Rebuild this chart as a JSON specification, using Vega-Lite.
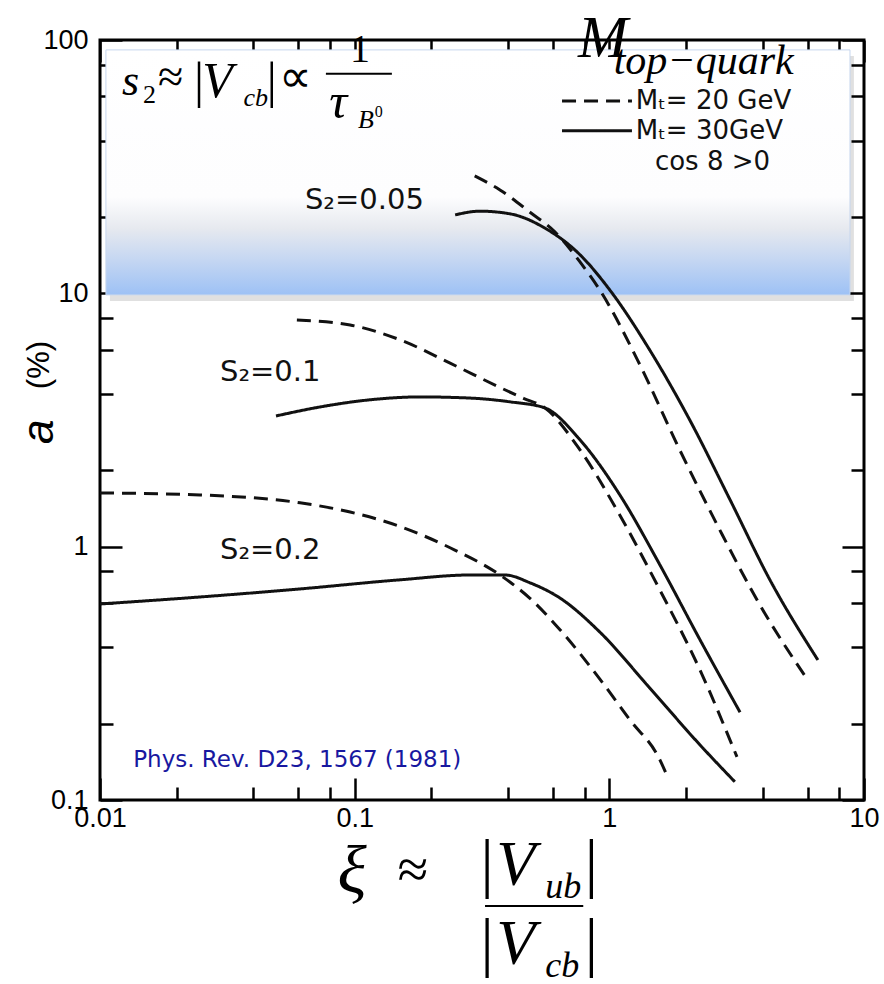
{
  "$schema": "https://vega.github.io/schema/vega-lite/v6.json",
  "width": 764,
  "height": 760,
  "autosize": {"type": "none"},
  "padding": {"left": 100, "top": 40, "right": 20, "bottom": 184},
  "background": "#ffffff",
  "config": {"view": {"stroke": "#000000", "strokeWidth": 3}},
  "datasets": {
    "curves": [
      {"s2": "0.2", "mass": "20 GeV", "x": 0.01, "y": 1.63},
      {"s2": "0.2", "mass": "20 GeV", "x": 0.0247, "y": 1.60},
      {"s2": "0.2", "mass": "20 GeV", "x": 0.061, "y": 1.49},
      {"s2": "0.2", "mass": "20 GeV", "x": 0.096, "y": 1.37},
      {"s2": "0.2", "mass": "20 GeV", "x": 0.151, "y": 1.20},
      {"s2": "0.2", "mass": "20 GeV", "x": 0.237, "y": 0.99},
      {"s2": "0.2", "mass": "20 GeV", "x": 0.372, "y": 0.773},
      {"s2": "0.2", "mass": "20 GeV", "x": 0.488, "y": 0.625},
      {"s2": "0.2", "mass": "20 GeV", "x": 0.64, "y": 0.47},
      {"s2": "0.2", "mass": "20 GeV", "x": 0.918, "y": 0.300},
      {"s2": "0.2", "mass": "20 GeV", "x": 1.205, "y": 0.207},
      {"s2": "0.2", "mass": "20 GeV", "x": 1.58, "y": 0.144},
      {"s2": "0.2", "mass": "20 GeV", "x": 1.70, "y": 0.122},
      {"s2": "0.2", "mass": "30 GeV", "x": 0.01, "y": 0.594},
      {"s2": "0.2", "mass": "30 GeV", "x": 0.0247, "y": 0.633},
      {"s2": "0.2", "mass": "30 GeV", "x": 0.061, "y": 0.681},
      {"s2": "0.2", "mass": "30 GeV", "x": 0.151, "y": 0.74},
      {"s2": "0.2", "mass": "30 GeV", "x": 0.284, "y": 0.773},
      {"s2": "0.2", "mass": "30 GeV", "x": 0.39, "y": 0.773},
      {"s2": "0.2", "mass": "30 GeV", "x": 0.488, "y": 0.72},
      {"s2": "0.2", "mass": "30 GeV", "x": 0.64, "y": 0.627},
      {"s2": "0.2", "mass": "30 GeV", "x": 0.918, "y": 0.460},
      {"s2": "0.2", "mass": "30 GeV", "x": 1.44, "y": 0.277},
      {"s2": "0.2", "mass": "30 GeV", "x": 2.27, "y": 0.165},
      {"s2": "0.2", "mass": "30 GeV", "x": 3.11, "y": 0.118},
      {"s2": "0.1", "mass": "20 GeV", "x": 0.0593, "y": 7.85},
      {"s2": "0.1", "mass": "20 GeV", "x": 0.096, "y": 7.50},
      {"s2": "0.1", "mass": "20 GeV", "x": 0.151, "y": 6.55},
      {"s2": "0.1", "mass": "20 GeV", "x": 0.237, "y": 5.30},
      {"s2": "0.1", "mass": "20 GeV", "x": 0.372, "y": 4.25},
      {"s2": "0.1", "mass": "20 GeV", "x": 0.46, "y": 3.85},
      {"s2": "0.1", "mass": "20 GeV", "x": 0.558, "y": 3.53},
      {"s2": "0.1", "mass": "20 GeV", "x": 0.767, "y": 2.41},
      {"s2": "0.1", "mass": "20 GeV", "x": 1.10, "y": 1.33},
      {"s2": "0.1", "mass": "20 GeV", "x": 1.58, "y": 0.674},
      {"s2": "0.1", "mass": "20 GeV", "x": 2.27, "y": 0.326},
      {"s2": "0.1", "mass": "20 GeV", "x": 3.17, "y": 0.148},
      {"s2": "0.1", "mass": "30 GeV", "x": 0.0491, "y": 3.28},
      {"s2": "0.1", "mass": "30 GeV", "x": 0.0731, "y": 3.56},
      {"s2": "0.1", "mass": "30 GeV", "x": 0.115, "y": 3.80},
      {"s2": "0.1", "mass": "30 GeV", "x": 0.180, "y": 3.90},
      {"s2": "0.1", "mass": "30 GeV", "x": 0.284, "y": 3.86},
      {"s2": "0.1", "mass": "30 GeV", "x": 0.407, "y": 3.73},
      {"s2": "0.1", "mass": "30 GeV", "x": 0.558, "y": 3.53},
      {"s2": "0.1", "mass": "30 GeV", "x": 0.767, "y": 2.64},
      {"s2": "0.1", "mass": "30 GeV", "x": 1.10, "y": 1.60},
      {"s2": "0.1", "mass": "30 GeV", "x": 1.58, "y": 0.847},
      {"s2": "0.1", "mass": "30 GeV", "x": 2.27, "y": 0.429},
      {"s2": "0.1", "mass": "30 GeV", "x": 3.26, "y": 0.222},
      {"s2": "0.05", "mass": "20 GeV", "x": 0.296, "y": 29.1},
      {"s2": "0.05", "mass": "20 GeV", "x": 0.372, "y": 25.6},
      {"s2": "0.05", "mass": "20 GeV", "x": 0.488, "y": 20.9},
      {"s2": "0.05", "mass": "20 GeV", "x": 0.611, "y": 17.5},
      {"s2": "0.05", "mass": "20 GeV", "x": 0.767, "y": 13.3},
      {"s2": "0.05", "mass": "20 GeV", "x": 0.918, "y": 10.3},
      {"s2": "0.05", "mass": "20 GeV", "x": 1.32, "y": 5.21},
      {"s2": "0.05", "mass": "20 GeV", "x": 1.89, "y": 2.41},
      {"s2": "0.05", "mass": "20 GeV", "x": 2.72, "y": 1.16},
      {"s2": "0.05", "mass": "20 GeV", "x": 3.90, "y": 0.589},
      {"s2": "0.05", "mass": "20 GeV", "x": 5.86, "y": 0.309},
      {"s2": "0.05", "mass": "30 GeV", "x": 0.248, "y": 20.4},
      {"s2": "0.05", "mass": "30 GeV", "x": 0.310, "y": 21.1},
      {"s2": "0.05", "mass": "30 GeV", "x": 0.407, "y": 20.6},
      {"s2": "0.05", "mass": "30 GeV", "x": 0.558, "y": 18.1},
      {"s2": "0.05", "mass": "30 GeV", "x": 0.767, "y": 14.2},
      {"s2": "0.05", "mass": "30 GeV", "x": 1.005, "y": 10.3},
      {"s2": "0.05", "mass": "30 GeV", "x": 1.44, "y": 5.98},
      {"s2": "0.05", "mass": "30 GeV", "x": 2.07, "y": 3.16},
      {"s2": "0.05", "mass": "30 GeV", "x": 2.98, "y": 1.53},
      {"s2": "0.05", "mass": "30 GeV", "x": 4.27, "y": 0.74},
      {"s2": "0.05", "mass": "30 GeV", "x": 6.59, "y": 0.357}
    ],
    "shadow": [{"x": 0.01094, "x2": 9.13, "y": 9.33, "y2": 86.5}],
    "panel": [{"x": 0.01055, "x2": 8.81, "y": 9.86, "y2": 91.4}],
    "legendLines": [
      {"mass": "20 GeV", "x": 0.652, "x2": 1.227, "y": 57.5},
      {"mass": "30 GeV", "x": 0.652, "x2": 1.227, "y": 43.8}
    ],
    "legendText": [
      {"x": 1.27, "y": 57.5, "text": "Mₜ= 20 GeV"},
      {"x": 1.27, "y": 43.8, "text": "Mₜ= 30GeV"},
      {"x": 1.51, "y": 33.0, "text": "cos 8 >0"}
    ],
    "curveLabels": [
      {"x": 0.0638, "y": 23.4, "text": "S₂=0.05"},
      {"x": 0.0296, "y": 4.89, "text": "S₂=0.1"},
      {"x": 0.0296, "y": 0.97, "text": "S₂=0.2"}
    ],
    "fracLines": [
      {"x": 0.0771, "x2": 0.140, "y": 73.5},
      {"x": 0.325, "x2": 0.79, "y": 0.0382}
    ],
    "mathS": [
      {"x": 0.0122, "y": 60.7, "text": "s"}
    ],
    "mathItalicBig": [
      {"x": 0.0252, "y": 59.6, "text": "V"},
      {"x": 0.0795, "y": 49.2, "text": "τ"}
    ],
    "mathUpright": [
      {"x": 0.0169, "y": 62.4, "text": "≈"},
      {"x": 0.0503, "y": 62.4, "text": "∝"}
    ],
    "mathOne": [
      {"x": 0.0958, "y": 81.9, "text": "1"}
    ],
    "mathBars": [
      {"x": 0.0234, "y": 59.6, "text": "|"},
      {"x": 0.0452, "y": 59.6, "text": "|"}
    ],
    "mathSub": [
      {"x": 0.01476, "y": 56.5, "text": "2"}
    ],
    "mathItalicSub": [
      {"x": 0.0366, "y": 54.9, "text": "cb"},
      {"x": 0.103, "y": 45.0, "text": "B"}
    ],
    "mathSup": [
      {"x": 0.120, "y": 49.8, "text": "0"}
    ],
    "bigM": [{"x": 0.754, "y": 85.8, "text": "M"}],
    "topQuark": [{"x": 1.04, "y": 73.5, "text": "top−quark"}],
    "ref": [{"x": 0.0135, "y": 0.144, "text": "Phys. Rev. D23, 1567 (1981)"}],
    "xiSym": [
      {"x": 0.0976, "y": 0.0429, "text": "ξ"}
    ],
    "approx": [
      {"x": 0.1694, "y": 0.0449, "text": "≈"}
    ],
    "xiV": [
      {"x": 0.36, "y": 0.0462, "text": "V"},
      {"x": 0.36, "y": 0.0226, "text": "V"}
    ],
    "xiBars": [
      {"x": 0.312, "y": 0.0462, "text": "|"},
      {"x": 0.80, "y": 0.0462, "text": "|"},
      {"x": 0.312, "y": 0.0226, "text": "|"},
      {"x": 0.80, "y": 0.0226, "text": "|"}
    ],
    "xiSub": [
      {"x": 0.56, "y": 0.0410, "text": "ub"},
      {"x": 0.56, "y": 0.0201, "text": "cb"}
    ],
    "yTitleA": [{"x": 0.00581, "y": 2.84, "text": "a"}],
    "yTitlePct": [{"x": 0.00581, "y": 5.21, "text": "(%)"}]
  },
  "resolve": {"axis": {"x": "independent", "y": "independent"}},
  "layer": [
    {
      "data": {"name": "shadow"},
      "mark": {"type": "rect", "color": "#000000", "opacity": 0.12},
      "encoding": {
        "x": {"field": "x", "type": "quantitative", "scale": {"type": "log", "domain": [0.01, 10], "nice": false},
          "axis": {"orient": "top", "values": [0.01,0.02,0.04,0.06,0.08,0.1,0.2,0.4,0.6,0.8,1,2,4,6,8,10], "labels": false, "domain": false, "grid": false, "title": null, "tickColor": "#000", "tickWidth": 2.5,
            "tickSize": {"condition": {"test": "abs(log(datum.value)/LN10 - round(log(datum.value)/LN10)) < 0.01", "value": -22}, "value": -13}}},
        "x2": {"field": "x2"},
        "y": {"field": "y", "type": "quantitative", "scale": {"type": "log", "domain": [0.1, 100], "nice": false},
          "axis": {"orient": "right", "values": [0.1,0.2,0.4,0.6,0.8,1,2,4,6,8,10,20,40,60,80,100], "labels": false, "domain": false, "grid": false, "title": null, "tickColor": "#000", "tickWidth": 2.5,
            "tickSize": {"condition": {"test": "abs(log(datum.value)/LN10 - round(log(datum.value)/LN10)) < 0.01", "value": -22}, "value": -13}}},
        "y2": {"field": "y2"}
      }
    },
    {
      "data": {"name": "panel"},
      "mark": {"type": "rect", "stroke": "#c6d6ee", "strokeWidth": 1,
        "fill": {"gradient": "linear", "x1": 0, "y1": 0, "x2": 0, "y2": 1,
          "stops": [
            {"offset": 0, "color": "#ffffff"},
            {"offset": 0.6, "color": "#fdfdfe"},
            {"offset": 0.73, "color": "#e6e9ef"},
            {"offset": 0.86, "color": "#c4d6f2"},
            {"offset": 1, "color": "#9dc1f5"}
          ]}},
      "encoding": {
        "x": {"field": "x", "type": "quantitative", "scale": {"type": "log", "domain": [0.01, 10], "nice": false}, "axis": null},
        "x2": {"field": "x2"},
        "y": {"field": "y", "type": "quantitative", "scale": {"type": "log", "domain": [0.1, 100], "nice": false}, "axis": null},
        "y2": {"field": "y2"}
      }
    },
    {
      "data": {"name": "curves"},
      "mark": {"type": "line", "color": "#111111", "strokeWidth": 3, "interpolate": "monotone"},
      "encoding": {
        "x": {"field": "x", "type": "quantitative", "scale": {"type": "log", "domain": [0.01, 10], "nice": false},
          "axis": {"orient": "bottom", "values": [0.01,0.02,0.04,0.06,0.08,0.1,0.2,0.4,0.6,0.8,1,2,4,6,8,10],
            "labelExpr": "abs(log(datum.value)/LN10 - round(log(datum.value)/LN10)) < 0.01 ? datum.value + '' : ''",
            "labelFont": "Liberation Sans", "labelFontSize": 27, "labelColor": "#000", "labelPadding": 27, "labelOverlap": false, "labelFlush": false,
            "domain": false, "grid": false, "title": null, "tickColor": "#000", "tickWidth": 2.5,
            "tickSize": {"condition": {"test": "abs(log(datum.value)/LN10 - round(log(datum.value)/LN10)) < 0.01", "value": -22}, "value": -13}}},
        "y": {"field": "y", "type": "quantitative", "scale": {"type": "log", "domain": [0.1, 100], "nice": false},
          "axis": {"orient": "left", "values": [0.1,0.2,0.4,0.6,0.8,1,2,4,6,8,10,20,40,60,80,100],
            "labelExpr": "abs(log(datum.value)/LN10 - round(log(datum.value)/LN10)) < 0.01 ? datum.value + '' : ''",
            "labelFont": "Liberation Sans", "labelFontSize": 27, "labelColor": "#000", "labelPadding": 34, "labelOverlap": false, "labelFlush": false,
            "domain": false, "grid": false, "title": null, "tickColor": "#000", "tickWidth": 2.5,
            "tickSize": {"condition": {"test": "abs(log(datum.value)/LN10 - round(log(datum.value)/LN10)) < 0.01", "value": -22}, "value": -13}}},
        "strokeDash": {"field": "mass", "type": "nominal", "scale": {"domain": ["20 GeV", "30 GeV"], "range": [[14, 8], [1, 0]]}, "legend": null},
        "detail": {"field": "s2"}
      }
    },
    {
      "data": {"name": "legendLines"},
      "mark": {"type": "rule", "color": "#111111", "strokeWidth": 3},
      "encoding": {
        "x": {"field": "x", "type": "quantitative", "scale": {"type": "log", "domain": [0.01, 10], "nice": false}, "axis": null},
        "x2": {"field": "x2"},
        "y": {"field": "y", "type": "quantitative", "scale": {"type": "log", "domain": [0.1, 100], "nice": false}, "axis": null},
        "strokeDash": {"field": "mass", "type": "nominal", "scale": {"domain": ["20 GeV", "30 GeV"], "range": [[14, 8], [1, 0]]}, "legend": null}
      }
    },
    {
      "data": {"name": "fracLines"},
      "mark": {"type": "rule", "color": "#000000", "strokeWidth": 2},
      "encoding": {
        "x": {"field": "x", "type": "quantitative", "scale": {"type": "log", "domain": [0.01, 10], "nice": false}, "axis": null},
        "x2": {"field": "x2"},
        "y": {"field": "y", "type": "quantitative", "scale": {"type": "log", "domain": [0.1, 100], "nice": false}, "axis": null}
      }
    },
    {
      "data": {"name": "legendText"},
      "mark": {"type": "text", "font": "DejaVu Sans", "fontSize": 26, "align": "left", "baseline": "middle", "color": "#111111"},
      "encoding": {
        "x": {"field": "x", "type": "quantitative", "scale": {"type": "log", "domain": [0.01, 10], "nice": false}, "axis": null},
        "y": {"field": "y", "type": "quantitative", "scale": {"type": "log", "domain": [0.1, 100], "nice": false}, "axis": null},
        "text": {"field": "text"}
      }
    },
    {
      "data": {"name": "curveLabels"},
      "mark": {"type": "text", "font": "DejaVu Sans", "fontSize": 29, "align": "left", "baseline": "middle", "color": "#111111"},
      "encoding": {
        "x": {"field": "x", "type": "quantitative", "scale": {"type": "log", "domain": [0.01, 10], "nice": false}, "axis": null},
        "y": {"field": "y", "type": "quantitative", "scale": {"type": "log", "domain": [0.1, 100], "nice": false}, "axis": null},
        "text": {"field": "text"}
      }
    },
    {
      "data": {"name": "mathS"},
      "mark": {"type": "text", "font": "Liberation Serif", "fontStyle": "italic", "fontSize": 44, "align": "left", "baseline": "alphabetic", "color": "#000"},
      "encoding": {
        "x": {"field": "x", "type": "quantitative", "scale": {"type": "log", "domain": [0.01, 10], "nice": false}, "axis": null},
        "y": {"field": "y", "type": "quantitative", "scale": {"type": "log", "domain": [0.1, 100], "nice": false}, "axis": null},
        "text": {"field": "text"}
      }
    },
    {
      "data": {"name": "mathItalicBig"},
      "mark": {"type": "text", "font": "Liberation Serif", "fontStyle": "italic", "fontSize": 50, "align": "left", "baseline": "alphabetic", "color": "#000"},
      "encoding": {
        "x": {"field": "x", "type": "quantitative", "scale": {"type": "log", "domain": [0.01, 10], "nice": false}, "axis": null},
        "y": {"field": "y", "type": "quantitative", "scale": {"type": "log", "domain": [0.1, 100], "nice": false}, "axis": null},
        "text": {"field": "text"}
      }
    },
    {
      "data": {"name": "mathUpright"},
      "mark": {"type": "text", "font": "Liberation Serif", "fontSize": 46, "align": "left", "baseline": "alphabetic", "color": "#000"},
      "encoding": {
        "x": {"field": "x", "type": "quantitative", "scale": {"type": "log", "domain": [0.01, 10], "nice": false}, "axis": null},
        "y": {"field": "y", "type": "quantitative", "scale": {"type": "log", "domain": [0.1, 100], "nice": false}, "axis": null},
        "text": {"field": "text"}
      }
    },
    {
      "data": {"name": "mathOne"},
      "mark": {"type": "text", "font": "Liberation Serif", "fontSize": 40, "align": "left", "baseline": "alphabetic", "color": "#000"},
      "encoding": {
        "x": {"field": "x", "type": "quantitative", "scale": {"type": "log", "domain": [0.01, 10], "nice": false}, "axis": null},
        "y": {"field": "y", "type": "quantitative", "scale": {"type": "log", "domain": [0.1, 100], "nice": false}, "axis": null},
        "text": {"field": "text"}
      }
    },
    {
      "data": {"name": "mathBars"},
      "mark": {"type": "text", "font": "Liberation Serif", "fontSize": 50, "align": "left", "baseline": "alphabetic", "color": "#000"},
      "encoding": {
        "x": {"field": "x", "type": "quantitative", "scale": {"type": "log", "domain": [0.01, 10], "nice": false}, "axis": null},
        "y": {"field": "y", "type": "quantitative", "scale": {"type": "log", "domain": [0.1, 100], "nice": false}, "axis": null},
        "text": {"field": "text"}
      }
    },
    {
      "data": {"name": "mathSub"},
      "mark": {"type": "text", "font": "Liberation Serif", "fontSize": 26, "align": "left", "baseline": "alphabetic", "color": "#000"},
      "encoding": {
        "x": {"field": "x", "type": "quantitative", "scale": {"type": "log", "domain": [0.01, 10], "nice": false}, "axis": null},
        "y": {"field": "y", "type": "quantitative", "scale": {"type": "log", "domain": [0.1, 100], "nice": false}, "axis": null},
        "text": {"field": "text"}
      }
    },
    {
      "data": {"name": "mathItalicSub"},
      "mark": {"type": "text", "font": "Liberation Serif", "fontStyle": "italic", "fontSize": 26, "align": "left", "baseline": "alphabetic", "color": "#000"},
      "encoding": {
        "x": {"field": "x", "type": "quantitative", "scale": {"type": "log", "domain": [0.01, 10], "nice": false}, "axis": null},
        "y": {"field": "y", "type": "quantitative", "scale": {"type": "log", "domain": [0.1, 100], "nice": false}, "axis": null},
        "text": {"field": "text"}
      }
    },
    {
      "data": {"name": "mathSup"},
      "mark": {"type": "text", "font": "Liberation Serif", "fontSize": 16, "align": "left", "baseline": "alphabetic", "color": "#000"},
      "encoding": {
        "x": {"field": "x", "type": "quantitative", "scale": {"type": "log", "domain": [0.01, 10], "nice": false}, "axis": null},
        "y": {"field": "y", "type": "quantitative", "scale": {"type": "log", "domain": [0.1, 100], "nice": false}, "axis": null},
        "text": {"field": "text"}
      }
    },
    {
      "data": {"name": "bigM"},
      "mark": {"type": "text", "font": "Liberation Serif", "fontStyle": "italic", "fontSize": 60, "align": "left", "baseline": "alphabetic", "color": "#000"},
      "encoding": {
        "x": {"field": "x", "type": "quantitative", "scale": {"type": "log", "domain": [0.01, 10], "nice": false}, "axis": null},
        "y": {"field": "y", "type": "quantitative", "scale": {"type": "log", "domain": [0.1, 100], "nice": false}, "axis": null},
        "text": {"field": "text"}
      }
    },
    {
      "data": {"name": "topQuark"},
      "mark": {"type": "text", "font": "Liberation Serif", "fontStyle": "italic", "fontSize": 42, "align": "left", "baseline": "alphabetic", "color": "#000"},
      "encoding": {
        "x": {"field": "x", "type": "quantitative", "scale": {"type": "log", "domain": [0.01, 10], "nice": false}, "axis": null},
        "y": {"field": "y", "type": "quantitative", "scale": {"type": "log", "domain": [0.1, 100], "nice": false}, "axis": null},
        "text": {"field": "text"}
      }
    },
    {
      "data": {"name": "ref"},
      "mark": {"type": "text", "font": "DejaVu Sans", "fontSize": 23, "align": "left", "baseline": "middle", "color": "#1818a0"},
      "encoding": {
        "x": {"field": "x", "type": "quantitative", "scale": {"type": "log", "domain": [0.01, 10], "nice": false}, "axis": null},
        "y": {"field": "y", "type": "quantitative", "scale": {"type": "log", "domain": [0.1, 100], "nice": false}, "axis": null},
        "text": {"field": "text"}
      }
    },
    {
      "data": {"name": "xiSym"},
      "mark": {"type": "text", "font": "Liberation Serif", "fontStyle": "italic", "fontSize": 68, "align": "center", "baseline": "alphabetic", "color": "#000"},
      "encoding": {
        "x": {"field": "x", "type": "quantitative", "scale": {"type": "log", "domain": [0.01, 10], "nice": false}, "axis": null},
        "y": {"field": "y", "type": "quantitative", "scale": {"type": "log", "domain": [0.1, 100], "nice": false}, "axis": null},
        "text": {"field": "text"}
      }
    },
    {
      "data": {"name": "approx"},
      "mark": {"type": "text", "font": "Liberation Serif", "fontSize": 56, "align": "center", "baseline": "alphabetic", "color": "#000"},
      "encoding": {
        "x": {"field": "x", "type": "quantitative", "scale": {"type": "log", "domain": [0.01, 10], "nice": false}, "axis": null},
        "y": {"field": "y", "type": "quantitative", "scale": {"type": "log", "domain": [0.1, 100], "nice": false}, "axis": null},
        "text": {"field": "text"}
      }
    },
    {
      "data": {"name": "xiV"},
      "mark": {"type": "text", "font": "Liberation Serif", "fontStyle": "italic", "fontSize": 64, "align": "left", "baseline": "alphabetic", "color": "#000"},
      "encoding": {
        "x": {"field": "x", "type": "quantitative", "scale": {"type": "log", "domain": [0.01, 10], "nice": false}, "axis": null},
        "y": {"field": "y", "type": "quantitative", "scale": {"type": "log", "domain": [0.1, 100], "nice": false}, "axis": null},
        "text": {"field": "text"}
      }
    },
    {
      "data": {"name": "xiBars"},
      "mark": {"type": "text", "font": "Liberation Serif", "fontSize": 66, "align": "left", "baseline": "alphabetic", "color": "#000"},
      "encoding": {
        "x": {"field": "x", "type": "quantitative", "scale": {"type": "log", "domain": [0.01, 10], "nice": false}, "axis": null},
        "y": {"field": "y", "type": "quantitative", "scale": {"type": "log", "domain": [0.1, 100], "nice": false}, "axis": null},
        "text": {"field": "text"}
      }
    },
    {
      "data": {"name": "xiSub"},
      "mark": {"type": "text", "font": "Liberation Serif", "fontStyle": "italic", "fontSize": 36, "align": "left", "baseline": "alphabetic", "color": "#000"},
      "encoding": {
        "x": {"field": "x", "type": "quantitative", "scale": {"type": "log", "domain": [0.01, 10], "nice": false}, "axis": null},
        "y": {"field": "y", "type": "quantitative", "scale": {"type": "log", "domain": [0.1, 100], "nice": false}, "axis": null},
        "text": {"field": "text"}
      }
    },
    {
      "data": {"name": "yTitleA"},
      "mark": {"type": "text", "font": "Liberation Sans", "fontStyle": "italic", "fontSize": 44, "angle": 270, "align": "center", "baseline": "middle", "color": "#000"},
      "encoding": {
        "x": {"field": "x", "type": "quantitative", "scale": {"type": "log", "domain": [0.01, 10], "nice": false}, "axis": null},
        "y": {"field": "y", "type": "quantitative", "scale": {"type": "log", "domain": [0.1, 100], "nice": false}, "axis": null},
        "text": {"field": "text"}
      }
    },
    {
      "data": {"name": "yTitlePct"},
      "mark": {"type": "text", "font": "Liberation Sans", "fontSize": 31, "angle": 270, "align": "center", "baseline": "middle", "color": "#000"},
      "encoding": {
        "x": {"field": "x", "type": "quantitative", "scale": {"type": "log", "domain": [0.01, 10], "nice": false}, "axis": null},
        "y": {"field": "y", "type": "quantitative", "scale": {"type": "log", "domain": [0.1, 100], "nice": false}, "axis": null},
        "text": {"field": "text"}
      }
    }
  ]
}
